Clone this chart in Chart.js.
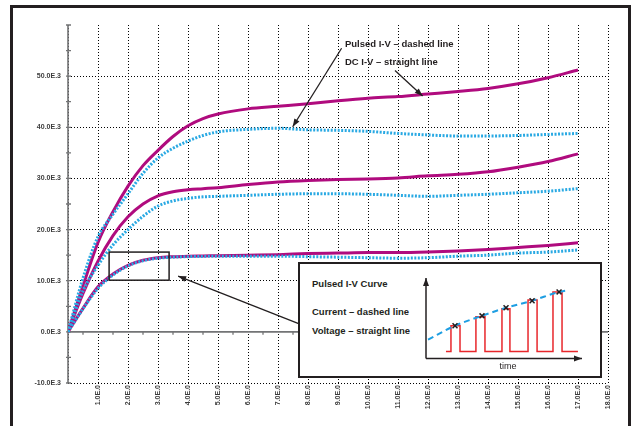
<!DOCTYPE html>
<html>
<head>
<meta charset="utf-8">
<script src="https://cdn.jsdelivr.net/npm/chart.js@4.4.1/dist/chart.umd.min.js"></script>
<style>
  html, body { margin: 0; padding: 0; background: #fff; }
  #wrap { position: relative; width: 633px; height: 426px; overflow: hidden; background: #fff; }
  #main { position: absolute; left: 0; top: 0; }
  #inset { position: absolute; left: 298px; top: 262px; width: 300px; height: 112px;
           border: 2px solid #231f20; background: #fff;
           font-family: "Liberation Sans", Arial, sans-serif; color: #231f20; }
  .itxt { position: absolute; left: 12px; font-size: 9.5px; font-weight: bold; line-height: 12px; white-space: nowrap; }
  #insetChart { position: absolute; left: 120px; top: 8px; }
  #timeLbl { position: absolute; left: 198px; top: 97px; font-size: 9px; line-height: 11px; width: 20px; text-align: center; }
</style>
</head>
<body>
<div id="wrap">
  <canvas id="main" width="633" height="426"></canvas>
  <div id="inset">
    <div class="itxt" style="top:13.5px">Pulsed I-V Curve</div>
    <div class="itxt" style="top:41.5px">Current – dashed line</div>
    <div class="itxt" style="top:60.5px">Voltage – straight line</div>
    <canvas id="insetChart" width="168" height="92"></canvas>
    <div id="timeLbl">time</div>
  </div>
</div>
<script>
// ---------------- main chart data ----------------
const xValues     = [0, 0.5, 1, 1.5, 2, 2.5, 3, 3.5, 4, 4.5, 5, 6, 7, 8, 9, 10, 11, 12, 13, 14, 15, 16, 17];
const dcHigh      = [0, 9000, 17500, 23500, 28500, 32500, 35500, 38200, 40300, 41700, 42600, 43600, 44100, 44600, 45200, 45700, 46000, 46500, 47000, 47600, 48500, 49700, 51200];
const pulsedHigh  = [0, 10500, 18600, 23000, 27000, 31000, 34000, 35900, 37300, 38400, 39100, 39600, 39800, 39500, 39400, 39200, 38800, 38500, 38300, 38300, 38400, 38600, 38800];
const dcMid       = [0, 7500, 13800, 18800, 22500, 25000, 26600, 27400, 27800, 28000, 28200, 28800, 29300, 29600, 29800, 29900, 30100, 30500, 30800, 31300, 32200, 33300, 34800];
const pulsedMid   = [0, 8000, 13000, 17000, 20000, 22600, 24600, 25600, 26100, 26400, 26500, 26700, 26900, 27000, 27000, 26900, 26700, 26500, 26700, 26900, 27200, 27500, 28000];
const dcLow       = [0, 4600, 8800, 11300, 13000, 14000, 14500, 14700, 14800, 14850, 14900, 15000, 15100, 15300, 15400, 15500, 15500, 15600, 15800, 16100, 16500, 16900, 17400];
const pulsedLow   = [0, 4500, 8500, 11100, 12900, 13900, 14400, 14600, 14700, 14750, 14800, 14800, 14800, 14700, 14600, 14500, 14400, 14500, 14800, 15000, 15400, 15600, 16000];

const xMin = 0, xMax = 18, yMin = -10000, yMax = 60000;
const yMinorTicks = [-10000, -5000, 0, 5000, 10000, 15000, 20000, 25000, 30000, 35000, 40000, 45000, 50000, 55000, 60000];
const xMinorTicks = [0.5, 1.5, 2.5, 3.5, 4.5, 5.5, 6.5, 7.5, 8.5, 9.5, 10.5, 11.5, 12.5, 13.5, 14.5, 15.5, 16.5, 17.5];

// annotations (in data units)
const noteTexts  = ['Pulsed I-V – dashed line', 'DC I-V – straight line'];
const noteX      = [9.23, 9.23];
const noteY      = [56300, 52600];
const arrowFromX = [9.12, 10.9, 7.73];
const arrowFromY = [55450, 51100, 1500];
const arrowToX   = [7.49, 11.82, 3.67];
const arrowToY   = [40100, 46100, 10900];
const boxX       = [1.37, 3.37];
const boxY       = [10100, 15600];

// ---------------- inset data ----------------
const pulseStart = [1.6, 3.2, 4.87, 6.54, 8.14];
const pulseEnd   = [2.18, 3.78, 5.38, 7.12, 8.72];
const pulseTop   = [4.07, 5.19, 6.17, 7.28, 8.27];
const pulseBase  = 0.86;
const baseFrom = 1.28, baseTo = 9.74;
const currentX   = [0.13, 1.86, 3.59, 5.13, 6.8, 8.53, 9.1];
const currentY   = [2.35, 4.07, 5.3, 6.3, 7.18, 8.27, 8.5];
const markerX    = [1.86, 3.59, 5.13, 6.8, 8.53];
const markerY    = [4.07, 5.3, 6.3, 7.18, 8.27];

const MAGENTA = '#b00b7e';
const BLUE = '#29a9e3';
const INK = '#231f20';
const AXIS = '#737476';
const GRID = '#000000';
const FONT = '"Liberation Sans", Arial, sans-serif';

const pts = (xs, ys) => xs.map((v, i) => ({ x: v, y: ys[i] }));

function arrow(ctx, x1, y1, x2, y2, len, wid) {
  ctx.beginPath(); ctx.moveTo(x1, y1); ctx.lineTo(x2, y2); ctx.stroke();
  const a = Math.atan2(y2 - y1, x2 - x1);
  ctx.beginPath();
  ctx.moveTo(x2, y2);
  ctx.lineTo(x2 - len * Math.cos(a) + wid * Math.sin(a), y2 - len * Math.sin(a) - wid * Math.cos(a));
  ctx.lineTo(x2 - len * Math.cos(a) - wid * Math.sin(a), y2 - len * Math.sin(a) + wid * Math.cos(a));
  ctx.closePath(); ctx.fill();
}

const decor = {
  id: 'decor',
  beforeDatasetsDraw(chart) {
    const { ctx, scales: { x, y } } = chart;
    ctx.save();
    ctx.setLineDash([]);
    ctx.strokeStyle = AXIS; ctx.lineWidth = 1.6;
    const x0 = x.getPixelForValue(0), y0 = y.getPixelForValue(0);
    ctx.beginPath();
    ctx.moveTo(x0, y.getPixelForValue(yMin)); ctx.lineTo(x0, y.getPixelForValue(yMax));
    ctx.moveTo(x0, y0); ctx.lineTo(x.getPixelForValue(xMax), y0);
    ctx.stroke();
    ctx.lineWidth = 1.3;
    ctx.beginPath();
    yMinorTicks.forEach(v => { const py = y.getPixelForValue(v); ctx.moveTo(x0 - 2, py); ctx.lineTo(x0 + 3, py); });
    xMinorTicks.forEach(v => { const px = x.getPixelForValue(v); ctx.moveTo(px, y0); ctx.lineTo(px, y0 + 3); });
    ctx.stroke();
    ctx.restore();
  },
  afterDatasetsDraw(chart) {
    const { ctx, scales: { x, y } } = chart;
    ctx.save();
    ctx.setLineDash([]);
    // zoom box
    ctx.strokeStyle = INK; ctx.lineWidth = 1.5;
    const bx1 = x.getPixelForValue(boxX[0]), bx2 = x.getPixelForValue(boxX[1]);
    const by1 = y.getPixelForValue(boxY[1]), by2 = y.getPixelForValue(boxY[0]);
    ctx.strokeRect(bx1, by1, bx2 - bx1, by2 - by1);
    // arrows
    ctx.fillStyle = INK; ctx.lineWidth = 1.3;
    for (let i = 0; i < arrowFromX.length; i++) {
      arrow(ctx, x.getPixelForValue(arrowFromX[i]), y.getPixelForValue(arrowFromY[i]),
                 x.getPixelForValue(arrowToX[i]), y.getPixelForValue(arrowToY[i]), 8, 3);
    }
    // texts
    ctx.font = 'bold 9.5px ' + FONT;
    ctx.textBaseline = 'middle'; ctx.textAlign = 'left';
    noteTexts.forEach((t, i) => ctx.fillText(t, x.getPixelForValue(noteX[i]), y.getPixelForValue(noteY[i])));
    // outer frame
    ctx.lineWidth = 3; ctx.strokeStyle = INK;
    ctx.strokeRect(11.5, 6.5, 618, 440);
    ctx.restore();
  }
};

new Chart(document.getElementById('main'), {
  type: 'line',
  data: {
    datasets: [
      { label: 'Pulsed high', data: pts(xValues, pulsedHigh), borderColor: BLUE, borderWidth: 3, borderDash: [2, 1.5] },
      { label: 'Pulsed mid',  data: pts(xValues, pulsedMid),  borderColor: BLUE, borderWidth: 3, borderDash: [2, 1.5] },
      { label: 'Pulsed low',  data: pts(xValues, pulsedLow),  borderColor: BLUE, borderWidth: 3, borderDash: [2, 1.5] },
      { label: 'DC high', data: pts(xValues, dcHigh), borderColor: MAGENTA, borderWidth: 3 },
      { label: 'DC mid',  data: pts(xValues, dcMid),  borderColor: MAGENTA, borderWidth: 3 },
      { label: 'DC low',  data: pts(xValues, dcLow),  borderColor: MAGENTA, borderWidth: 3 }
    ]
  },
  options: {
    responsive: false, animation: false, devicePixelRatio: 1,
    layout: { padding: { left: 0, top: 25, right: 25, bottom: 0 } },
    elements: { point: { radius: 0 }, line: { cubicInterpolationMode: 'monotone', fill: false } },
    plugins: { legend: { display: false }, tooltip: { enabled: false } },
    scales: {
      x: {
        type: 'linear', min: xMin, max: xMax,
        afterFit: s => { s.height = 43; },
        ticks: {
          stepSize: 1, autoSkip: false, maxRotation: 90, minRotation: 90, padding: 2,
          color: '#3c3c3c', font: { family: FONT, size: 7, weight: 'bold' },
          callback: v => v === 0 ? '' : v.toFixed(1) + 'E.0'
        },
        grid: { color: GRID, lineWidth: 1, drawTicks: false },
        border: { display: false, dash: [1, 2] }
      },
      y: {
        type: 'linear', min: yMin, max: yMax,
        afterFit: s => { s.width = 68; },
        ticks: {
          stepSize: 10000, padding: 7,
          color: '#3c3c3c', font: { family: FONT, size: 7, weight: 'bold' },
          callback: v => v >= yMax ? '' : (v / 1000).toFixed(1) + 'E.3'
        },
        grid: { color: c => (c.tick && c.tick.value >= yMax) ? 'rgba(0,0,0,0)' : GRID, lineWidth: 1, drawTicks: false },
        border: { display: false, dash: [1, 2] }
      }
    }
  },
  plugins: [decor]
});

// ---------------- inset chart ----------------
const pulsePath = [{ x: baseFrom, y: pulseBase }];
pulseStart.forEach((s, i) => {
  pulsePath.push({ x: s, y: pulseBase }, { x: s, y: pulseTop[i] }, { x: pulseEnd[i], y: pulseTop[i] }, { x: pulseEnd[i], y: pulseBase });
});
pulsePath.push({ x: baseTo, y: pulseBase });

const insetAxes = {
  id: 'insetAxes',
  beforeDatasetsDraw(chart) {
    const { ctx, chartArea: a } = chart;
    ctx.save();
    ctx.strokeStyle = INK; ctx.fillStyle = INK; ctx.lineWidth = 1.5; ctx.setLineDash([]);
    arrow(ctx, a.left, a.bottom, a.left, a.top, 8, 3);
    arrow(ctx, a.left, a.bottom, a.right, a.bottom, 8, 3);
    ctx.restore();
  }
};

new Chart(document.getElementById('insetChart'), {
  type: 'line',
  data: {
    datasets: [
      { label: 'markers', data: pts(markerX, markerY), showLine: false, pointStyle: 'crossRot', pointRadius: 3.5, borderColor: INK, borderWidth: 1.5 },
      { label: 'current', data: pts(currentX, currentY), borderColor: '#1e9ee2', borderWidth: 2, borderDash: [6, 4], pointRadius: 0, cubicInterpolationMode: 'monotone' },
      { label: 'voltage', data: pulsePath, borderColor: '#e8262b', borderWidth: 1.5, pointRadius: 0, tension: 0 }
    ]
  },
  options: {
    responsive: false, animation: false, devicePixelRatio: 1,
    layout: { padding: { left: 6, right: 6, top: 6, bottom: 5 } },
    plugins: { legend: { display: false }, tooltip: { enabled: false } },
    scales: {
      x: { type: 'linear', min: 0, max: 10, display: false },
      y: { type: 'linear', min: 0, max: 10, display: false }
    }
  },
  plugins: [insetAxes]
});
</script>
</body>
</html>
